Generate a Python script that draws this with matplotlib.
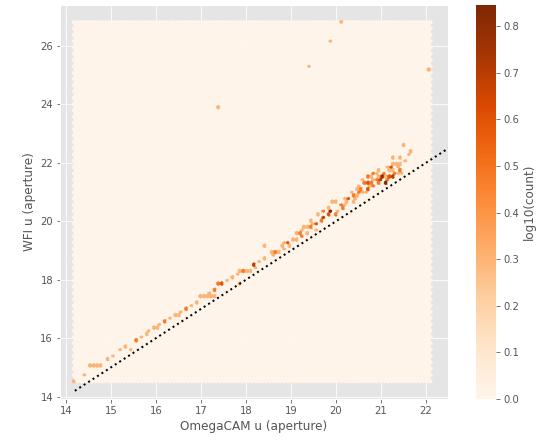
import numpy as np
import matplotlib
matplotlib.use('Agg')
import matplotlib.pyplot as plt

plt.style.use('ggplot')

# hexbin input: point positions and how many sources sit at each
x_pts = [17.41, 19.43, 19.91, 20.15, 22.10,
         14.18, 14.43, 14.54, 14.62, 14.70, 14.77, 14.95, 15.22, 15.35, 15.46,
         15.59, 15.71, 15.86, 15.98, 16.06, 16.23, 16.43, 16.54, 16.57, 16.69,
         16.76, 16.98, 17.06, 17.14, 17.20, 17.31, 17.34, 17.50, 17.42, 17.72,
         17.87, 17.95, 18.02, 17.88, 18.16, 18.31, 18.45, 18.54, 18.60, 18.66,
         18.72, 18.80, 18.88, 18.96, 19.04, 19.12, 19.20, 19.28, 19.36,
         19.22, 19.30, 19.42, 19.50, 19.58, 19.66, 19.74, 19.82, 19.90, 19.98,
         19.76, 20.06, 19.90, 19.98, 20.10, 20.18, 20.26, 20.30, 20.38, 20.46,
         20.54, 20.35, 20.45, 20.55, 20.65, 20.70, 20.60, 20.68, 20.76, 20.84,
         20.92, 21.00, 21.09, 21.16, 20.78, 20.86, 20.94, 21.02, 21.10, 21.18,
         21.26, 21.34, 21.42, 21.30, 21.20, 21.28, 21.36, 21.43, 21.27, 21.60,
         21.49, 21.68,
         20.50, 20.58, 20.62, 20.70, 20.74, 20.82, 20.88, 20.96, 21.04, 21.12,
         21.20, 21.22, 21.38, 21.46, 21.50, 21.14, 20.98, 21.56, 21.40, 20.42,
         20.50, 20.22, 20.14, 19.86, 19.70, 19.62, 19.55, 19.46, 19.38, 19.15,
         19.00, 18.85, 18.40, 18.24, 18.10, 17.80, 17.60, 17.20, 16.90, 16.35,
         16.10, 15.80, 15.05]
y_pts = [23.93, 25.33, 26.20, 26.81, 25.22,
         14.53, 14.74, 15.09, 15.09, 15.09, 15.09, 15.28, 15.58, 15.74, 15.62,
         15.94, 16.05, 16.26, 16.40, 16.40, 16.59, 16.80, 16.76, 16.91, 17.03,
         17.10, 17.45, 17.45, 17.45, 17.45, 17.65, 17.45, 17.90, 17.86, 18.11,
         18.31, 18.31, 18.31, 17.86, 18.53, 18.57, 19.19, 18.91, 18.80, 18.95,
         19.00, 19.22, 19.30, 19.26, 19.40, 19.33, 19.55, 19.70, 19.62,
         19.50, 19.75, 19.80, 19.95, 19.88, 20.05, 20.15, 20.25, 20.30, 20.22,
         20.36, 20.40, 20.70, 20.70, 20.60, 20.55, 20.66, 20.80, 20.90, 20.75,
         20.95, 21.00, 21.10, 21.15, 20.95, 21.05, 21.30, 21.35, 21.28, 21.40,
         21.33, 21.38, 21.33, 21.40, 21.55, 21.60, 21.65, 21.55, 21.62, 21.70,
         21.58, 21.65, 21.60, 21.75, 21.90, 21.95, 22.00, 21.92, 22.22, 22.28,
         22.56, 22.39,
         21.20, 21.00, 21.45, 21.50, 21.20, 21.25, 21.45, 21.50, 21.48, 21.50,
         21.48, 21.82, 21.80, 21.75, 21.68, 21.80, 21.75, 22.08, 22.15, 20.70,
         20.85, 20.75, 20.45, 20.50, 20.30, 20.20, 19.70, 20.00, 19.85, 19.55,
         19.12, 19.05, 18.70, 18.45, 18.35, 18.20, 17.95, 17.60, 17.20, 16.70,
         16.45, 16.15, 15.40]
n_pts = [1, 1, 1, 1, 1,
         1, 1, 1, 1, 1, 1, 1, 1, 1, 1,
         2, 1, 1, 1, 1, 2, 1, 1, 1, 2,
         1, 1, 1, 1, 1, 2, 1, 3, 2, 1,
         1, 2, 1, 1, 4, 1, 1, 1, 1, 2,
         1, 1, 1, 3, 1, 1, 2, 1, 1,
         2, 1, 2, 1, 3, 2, 4, 3, 6, 2,
         1, 1, 1, 1, 2, 1, 1, 3, 2, 1,
         2, 1, 1, 2, 1, 3, 2, 3, 2, 1,
         2, 4, 6, 2, 1, 2, 1, 3, 2, 1,
         4, 2, 1, 1, 1, 1, 1, 1, 1, 1,
         1, 1,
         1, 1, 1, 2, 1, 2, 2, 1, 2, 1,
         3, 2, 1, 2, 1, 1, 1, 1, 1, 1,
         1, 1, 2, 1, 1, 1, 1, 1, 1, 1,
         1, 1, 1, 1, 1, 1, 1, 1, 1, 1,
         1, 1, 1]

x = np.repeat(x_pts, n_pts)
y = np.repeat(y_pts, n_pts)

fig = plt.figure(figsize=(547/72, 445/72), dpi=72)
ax = fig.add_axes([60/547, 46/445, 388/547, 394/445])
cax = fig.add_axes([476/547, 46/445, 20/547, 394/445])

hb = ax.hexbin(x, y, gridsize=100, cmap='Oranges')
counts = hb.get_array()
hb.set_array(np.log10(counts + 1))
hb.set_clim(0, np.log10(counts.max() + 1))

ax.plot([14.2, 23], [14.2, 23], 'k:', lw=2)
ax.set_xlim(13.87, 22.49)
ax.set_ylim(13.92, 27.4)
ax.set_xlabel('OmegaCAM u (aperture)')
ax.set_ylabel('WFI u (aperture)')

cb = fig.colorbar(hb, cax=cax)
cb.set_label('log10(count)')
cb.outline.set_visible(False)
cb.set_ticks(np.arange(0, 0.85, 0.1))

fig.savefig('out.png', dpi=72)
